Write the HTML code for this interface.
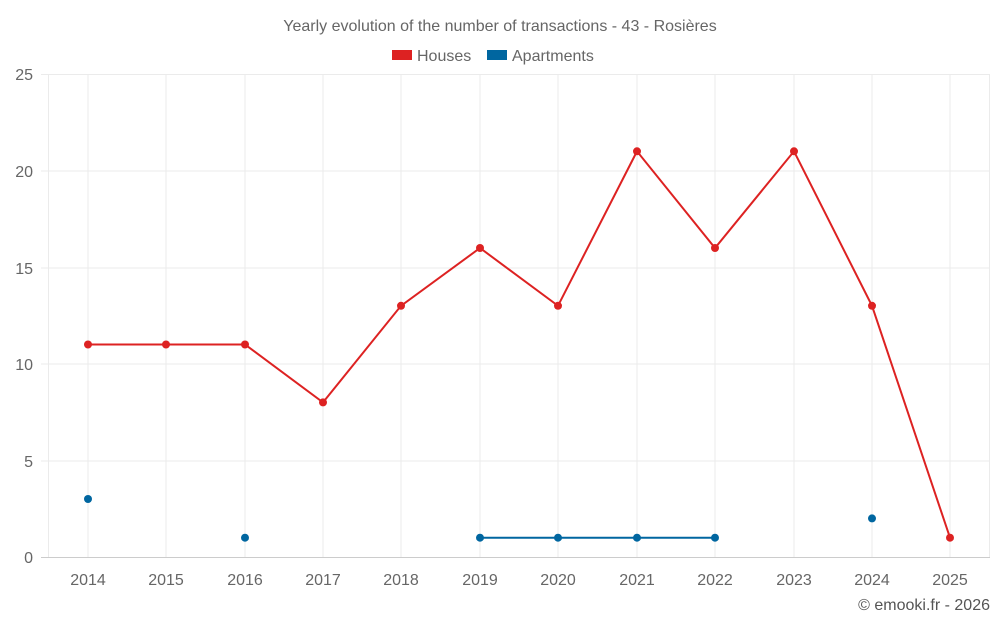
<!DOCTYPE html>
<html><head><meta charset="utf-8"><style>
body{margin:0;background:#fff;}
svg{display:block;font-family:"Liberation Sans",sans-serif;}
</style></head><body>
<svg width="1000" height="625" viewBox="0 0 1000 625">
<text x="500" y="31" text-anchor="middle" font-size="16" fill="#666">Yearly evolution of the number of transactions - 43 - Rosières</text>
<rect x="392" y="50" width="20" height="10" fill="#dd2222"/>
<text x="417" y="61" font-size="16" fill="#666">Houses</text>
<rect x="487" y="50" width="20" height="10" fill="#0066a0"/>
<text x="512" y="61" font-size="16" fill="#666">Apartments</text>
<g stroke="#ebebeb" stroke-width="1">
<line x1="41" y1="74.5" x2="990" y2="74.5"/>
<line x1="41" y1="171" x2="990" y2="171"/>
<line x1="41" y1="268" x2="990" y2="268"/>
<line x1="41" y1="364" x2="990" y2="364"/>
<line x1="41" y1="461" x2="990" y2="461"/>
<line x1="48.5" y1="74" x2="48.5" y2="557"/>
<line x1="88" y1="74" x2="88" y2="557"/>
<line x1="166" y1="74" x2="166" y2="557"/>
<line x1="245" y1="74" x2="245" y2="557"/>
<line x1="323" y1="74" x2="323" y2="557"/>
<line x1="401" y1="74" x2="401" y2="557"/>
<line x1="480" y1="74" x2="480" y2="557"/>
<line x1="558" y1="74" x2="558" y2="557"/>
<line x1="637" y1="74" x2="637" y2="557"/>
<line x1="715" y1="74" x2="715" y2="557"/>
<line x1="794" y1="74" x2="794" y2="557"/>
<line x1="872" y1="74" x2="872" y2="557"/>
<line x1="950" y1="74" x2="950" y2="557"/>
<line x1="989.5" y1="74" x2="989.5" y2="557"/>
</g>
<line x1="41" y1="557.5" x2="990" y2="557.5" stroke="#ccc"/>
<g font-size="16" fill="#666" text-anchor="end">
<text x="33" y="80">25</text><text x="33" y="177">20</text><text x="33" y="274">15</text>
<text x="33" y="370">10</text><text x="33" y="467">5</text><text x="33" y="563">0</text>
</g>
<g font-size="16" fill="#666" text-anchor="middle">
<text x="88" y="585">2014</text><text x="166" y="585">2015</text><text x="245" y="585">2016</text>
<text x="323" y="585">2017</text><text x="401" y="585">2018</text><text x="480" y="585">2019</text>
<text x="558" y="585">2020</text><text x="637" y="585">2021</text><text x="715" y="585">2022</text>
<text x="794" y="585">2023</text><text x="872" y="585">2024</text><text x="950" y="585">2025</text>
</g>
<text x="990" y="610" text-anchor="end" font-size="16" fill="#555">© emooki.fr - 2026</text>
<polyline fill="none" stroke="#dd2222" stroke-width="2" points="88,344.5 166,344.5 245,344.5 323,402.4 401,305.8 480,248 558,305.8 637,151.3 715,248 794,151.3 872,305.8 950,537.7"/>
<g fill="#dd2222">
<circle cx="88" cy="344.5" r="4"/><circle cx="166" cy="344.5" r="4"/><circle cx="245" cy="344.5" r="4"/>
<circle cx="323" cy="402.4" r="4"/><circle cx="401" cy="305.8" r="4"/><circle cx="480" cy="248" r="4"/>
<circle cx="558" cy="305.8" r="4"/><circle cx="637" cy="151.3" r="4"/><circle cx="715" cy="248" r="4"/>
<circle cx="794" cy="151.3" r="4"/><circle cx="872" cy="305.8" r="4"/><circle cx="950" cy="537.7" r="4"/>
</g>
<polyline fill="none" stroke="#0066a0" stroke-width="2" points="480,537.7 558,537.7 637,537.7 715,537.7"/>
<g fill="#0066a0">
<circle cx="88" cy="499" r="4"/><circle cx="245" cy="537.7" r="4"/><circle cx="480" cy="537.7" r="4"/>
<circle cx="558" cy="537.7" r="4"/><circle cx="637" cy="537.7" r="4"/><circle cx="715" cy="537.7" r="4"/>
<circle cx="872" cy="518.4" r="4"/>
</g>
</svg>
</body></html>
